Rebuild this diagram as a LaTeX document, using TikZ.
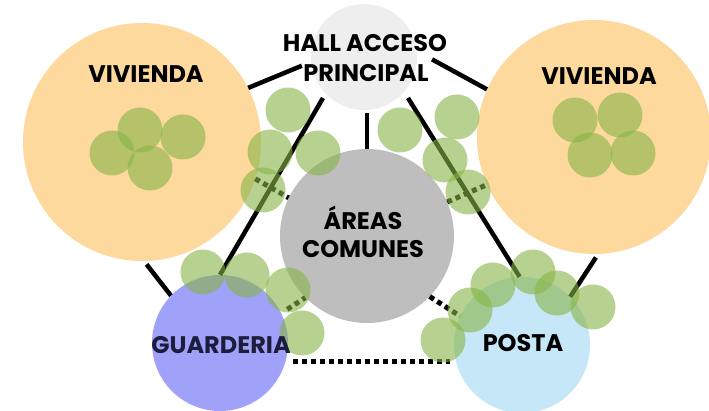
\documentclass[tikz,border=0pt]{standalone}
\usepackage{fontspec}
\setmainfont{Poppins}
\usetikzlibrary{calc}
\definecolor{orangec}{RGB}{253,217,158}
\definecolor{hallc}{RGB}{238,238,238}
\definecolor{areac}{RGB}{190,190,190}
\definecolor{guardc}{RGB}{160,162,249}
\definecolor{postac}{RGB}{198,231,247}
\definecolor{greenc}{RGB}{135,180,70}
\definecolor{navy}{RGB}{28,28,60}
\tikzset{
  zone/.style={circle,inner sep=0pt,minimum size=#1},
  leaf/.style={circle,inner sep=0pt,minimum size=45pt,fill=greenc,fill opacity=0.6},
  link/.style={line width=4.5pt,black},
  dotlink/.style={line width=5pt,black,dash pattern=on 5pt off 4pt},
  lbl/.style={font=\fontsize{24}{28}\selectfont\bfseries,anchor=base,inner sep=0pt}
}
\begin{document}
\begin{tikzpicture}[x=1pt,y=-1pt]
\useasboundingbox[fill=white] (0,0) rectangle (709,411);
% zones
\node[zone=238pt,fill=orangec] (vivL) at (142,142) {};
\node[zone=234pt,fill=orangec] (vivR) at (594,137) {};
\node[zone=106pt,fill=hallc] (hall) at (364,57) {};
\node[zone=174pt,fill=areac] (areas) at (367,236) {};
\node[zone=136pt,fill=guardc] (guard) at (220,343) {};
\node[zone=136pt,fill=postac] (posta) at (522,345) {};
% solid links
\draw[link] (vivL.27) -- ($(hall.center)!1.18!(hall.188)$);
\draw[link] (vivR.156) -- ($(hall.center)!1.28!(hall.-2)$);
\draw[link] ($(hall.center)!1.09!(hall.225)$) -- (guard.90);
\draw[link,shorten <=3pt] (hall.south -| areas.north) -- (areas.north);
\draw[link] ($(hall.center)!1.13!(hall.-43)$) -- (posta.92);
\draw[link,shorten <=4pt] (vivL.-89.5) -- (guard.136);
\draw[link,shorten <=4pt] (vivR.-88.6) -- (posta.45);
% dotted links
\draw[dotlink] (vivL.-18) -- (areas.154);
\draw[dotlink] (areas.23) -- (vivR.-156.7);
\draw[dotlink,shorten <=7pt] (guard.26) -- (areas.225.5);
\draw[dotlink] (areas.-44) -- (posta.155);
\draw[dotlink,shorten <=7pt,shorten >=4pt] (guard.-16) -- (guard.-16 -| posta.west);
% green leaves
\foreach \n/\p/\q in {l1/140/130,l2/183/137,l3/112/153,l4/150/168,
  r1/575/120,r2/620/115,r3/590/155,r4/633/153,
  m1/288/110,m2/270/152,m3/318/153,m4/263/190,
  n1/400/130,n2/457/117,n3/445/160,n4/468/192,
  g1/203/272,g2/247/275,g3/288/290,g4/302/333,
  p1/493/285,p2/533/272,p3/557/293,p4/593/307,p5/470/310,p6/443/340}
  \node[leaf] (\n) at (\p,\q) {};
% labels
\node[lbl] (tvivL) at (146,83) {VIVIENDA};
\node[lbl] (tvivR) at (599,85) {VIVIENDA};
\node[lbl] (thall1) at (365,52) {HALL ACCESO};
\node[lbl] (thall2) at (366,82) {PRINCIPAL};
\node[lbl] (tarea1) at (363,230) {ÁREAS};
\node[lbl] (tarea2) at (363,258) {COMUNES};
\node[lbl,text=navy] (tguard) at (221,353) {GUARDERIA};
\node[lbl] (tposta) at (523,352) {POSTA};
\end{tikzpicture}
\end{document}
